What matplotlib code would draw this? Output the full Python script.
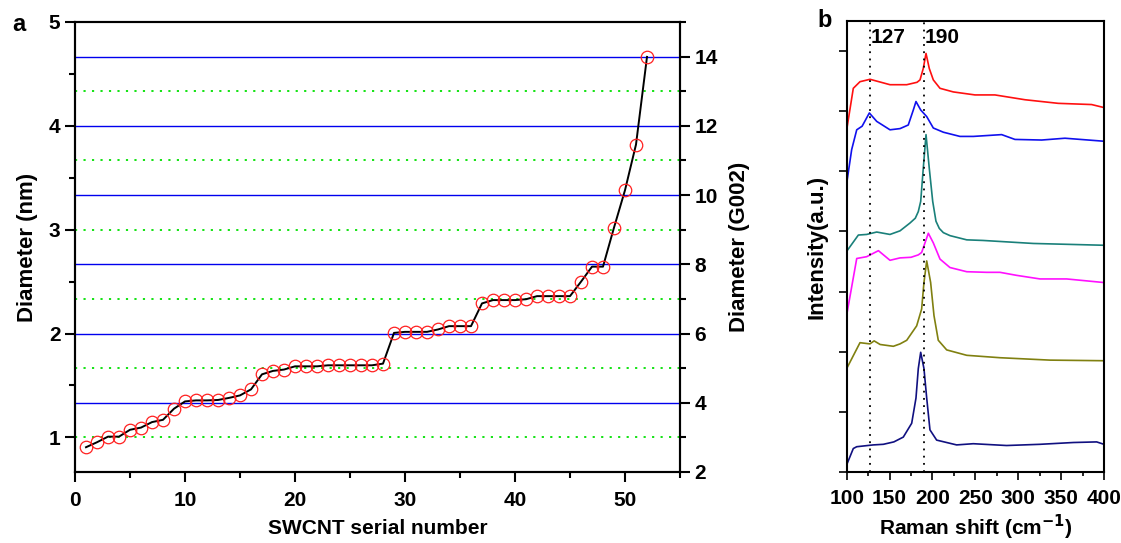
import numpy as np
import matplotlib
matplotlib.use('Agg')
import matplotlib.pyplot as plt
from matplotlib.ticker import MultipleLocator, NullFormatter

plt.rcParams['font.family'] = ['Liberation Sans', 'DejaVu Sans']
plt.rcParams['font.weight'] = 'bold'
plt.rcParams['axes.labelweight'] = 'bold'

# ---- panel a : diameter of each SWCNT (nm), sorted
serial = list(range(1, 53))
diameter = [0.905, 0.953, 1.007, 1.007, 1.073, 1.094, 1.147, 1.169, 1.276, 1.346,
            1.356, 1.356, 1.360, 1.380, 1.404, 1.462, 1.607, 1.640, 1.653, 1.684,
            1.684, 1.684, 1.694, 1.694, 1.694, 1.694, 1.694, 1.710, 2.006, 2.016,
            2.016, 2.016, 2.039, 2.071, 2.071, 2.071, 2.290, 2.322, 2.322, 2.322,
            2.330, 2.360, 2.360, 2.360, 2.360, 2.499, 2.644, 2.644, 3.020, 3.380,
            3.820, 4.664]
g002_even = [4, 6, 8, 10, 12, 14]
g002_odd = [3, 5, 7, 9, 11, 13]

# ---- panel b : Raman spectra (offset, arbitrary units)
red_x = [100, 107.7, 115.5, 127.2, 150.5, 170, 182, 185.5, 189.3, 192.5, 196.3, 201, 208.8, 224.3, 249.6, 272.9, 307.9, 346.7, 385.6, 400]
red_y = [5.69, 6.38, 6.49, 6.53, 6.44, 6.44, 6.48, 6.52, 6.71, 6.96, 6.71, 6.52, 6.38, 6.32, 6.27, 6.27, 6.19, 6.13, 6.11, 6.06]
blue_x = [100, 105.8, 111.7, 118, 126.4, 135, 150.5, 162.2, 171.8, 177.7, 180.8, 186.3, 193.3, 201, 212.7, 232.1, 247.6, 280.7, 296.2, 327.4, 354.5, 400]
blue_y = [4.80, 5.36, 5.69, 5.75, 5.97, 5.83, 5.69, 5.71, 5.77, 6.02, 6.16, 6.02, 5.91, 5.72, 5.65, 5.58, 5.58, 5.61, 5.53, 5.52, 5.55, 5.50]
teal_x = [100, 113.6, 123.3, 135, 150.5, 162.2, 173.8, 180, 183.5, 186.3, 189.3, 192.5, 196.3, 200.3, 204.1, 208, 212.7, 220.5, 240, 259, 317.6, 400]
teal_y = [3.67, 3.94, 3.95, 3.99, 3.95, 4.01, 4.14, 4.22, 4.33, 4.50, 5.05, 5.61, 5.05, 4.50, 4.17, 4.05, 3.98, 3.93, 3.86, 3.85, 3.80, 3.77]
mag_x = [100, 111.7, 123.3, 137, 150.5, 162.2, 175, 183.5, 187.4, 195.2, 201, 208.8, 220.4, 240, 263.2, 278.8, 298, 325.4, 356.5, 400]
mag_y = [2.61, 3.55, 3.58, 3.68, 3.52, 3.56, 3.57, 3.61, 3.65, 3.97, 3.81, 3.54, 3.40, 3.33, 3.32, 3.32, 3.27, 3.21, 3.21, 3.15]
olive_x = [100, 115.5, 127, 132, 139, 154.4, 162.2, 170, 181.6, 187.4, 190.1, 193.3, 197.9, 201.8, 206.8, 216.6, 240, 278.8, 337, 400]
olive_y = [1.72, 2.15, 2.13, 2.18, 2.12, 2.09, 2.13, 2.19, 2.43, 2.71, 3.15, 3.51, 3.15, 2.60, 2.19, 2.03, 1.94, 1.90, 1.86, 1.85]
navy_x = [100, 107.7, 111.7, 131, 142.7, 155, 166, 175.8, 180.8, 183.5, 186.3, 190.1, 193.3, 197.1, 204.9, 228.2, 247.6, 286.5, 325.4, 364.3, 391.5, 400]
navy_y = [0.12, 0.39, 0.42, 0.45, 0.46, 0.50, 0.58, 0.81, 1.23, 1.72, 1.99, 1.72, 1.23, 0.70, 0.53, 0.45, 0.47, 0.44, 0.46, 0.49, 0.50, 0.46]
peaks = [127, 190]

fig = plt.figure(figsize=(11.21, 5.43), dpi=100)

# panel a
ax = fig.add_axes([0.0669, 0.1308, 0.5397, 0.8287])
ax2 = ax.twinx()
ax.set_xlim(0, 55)
ax.set_ylim(2 / 3, 5)
ax2.set_ylim(2, 15)
for g in g002_even:
    ax2.axhline(g, color='#0000ee', lw=1.0, zorder=1)
for g in g002_odd:
    ax2.axhline(g, color='#00e000', lw=1.3, ls=(0, (1.2, 3.5)), zorder=1)
ax2.plot(serial, [d * 3 for d in diameter], color='black', lw=1.4, zorder=3)
ax2.plot(serial, [d * 3 for d in diameter], ls='none', marker='o', ms=9,
         mfc='none', mec='#ff2020', mew=0.9, zorder=4)

ax.xaxis.set_major_locator(MultipleLocator(10))
ax.xaxis.set_minor_locator(MultipleLocator(5))
ax.yaxis.set_major_locator(MultipleLocator(1))
ax.yaxis.set_minor_locator(MultipleLocator(0.5))
ax2.yaxis.set_major_locator(MultipleLocator(2))
ax2.yaxis.set_minor_locator(MultipleLocator(1))
for a in (ax, ax2):
    a.tick_params(which='major', direction='out', length=7, width=1.5, labelsize=15)
    a.tick_params(which='minor', direction='out', length=4, width=1.5)
    for s in a.spines.values():
        s.set_linewidth(1.5)
ax.tick_params(axis='x', pad=7)
ax.set_xlabel('SWCNT serial number', fontsize=15, labelpad=6)
ax.set_ylabel('Diameter (nm)', fontsize=16, labelpad=8)
ax2.set_ylabel('Diameter (G002)', fontsize=16, labelpad=8)
fig.text(0.011, 0.955, 'a', fontsize=17, fontweight='bold', va='center')

# panel b
bx = fig.add_axes([0.7553, 0.1308, 0.2295, 0.8306])
for xs, ys, c in [(red_x, red_y, '#ff1010'), (blue_x, blue_y, '#1010ee'),
                  (teal_x, teal_y, '#1a807a'), (mag_x, mag_y, '#ff10ff'),
                  (olive_x, olive_y, '#808010'), (navy_x, navy_y, '#101080')]:
    bx.plot(xs, ys, color=c, lw=1.2)
for p in peaks:
    bx.axvline(p, color='black', lw=1.3, ls=(0, (1, 3)))
    bx.text(p + 1, 7.23, str(p), fontsize=15, fontweight='bold', va='center')
bx.set_xlim(100, 400)
bx.set_ylim(0, 7.5)
bx.xaxis.set_major_locator(MultipleLocator(50))
bx.xaxis.set_minor_locator(MultipleLocator(25))
bx.set_yticks(np.arange(0, 8))
bx.yaxis.set_major_formatter(NullFormatter())
bx.tick_params(which='major', direction='out', length=6, width=1.2, labelsize=15)
bx.tick_params(which='minor', direction='out', length=3, width=1.2)
bx.tick_params(axis='x', pad=6)
for s in bx.spines.values():
    s.set_linewidth(1.5)
bx.set_xlabel('Raman shift (cm$^{\\mathbf{-1}}$)', fontsize=15, labelpad=4)
bx.set_ylabel('Intensity(a.u.)', fontsize=16, labelpad=4)
fig.text(0.729, 0.962, 'b', fontsize=17, fontweight='bold', va='center')

fig.savefig('out.png', dpi=100)
